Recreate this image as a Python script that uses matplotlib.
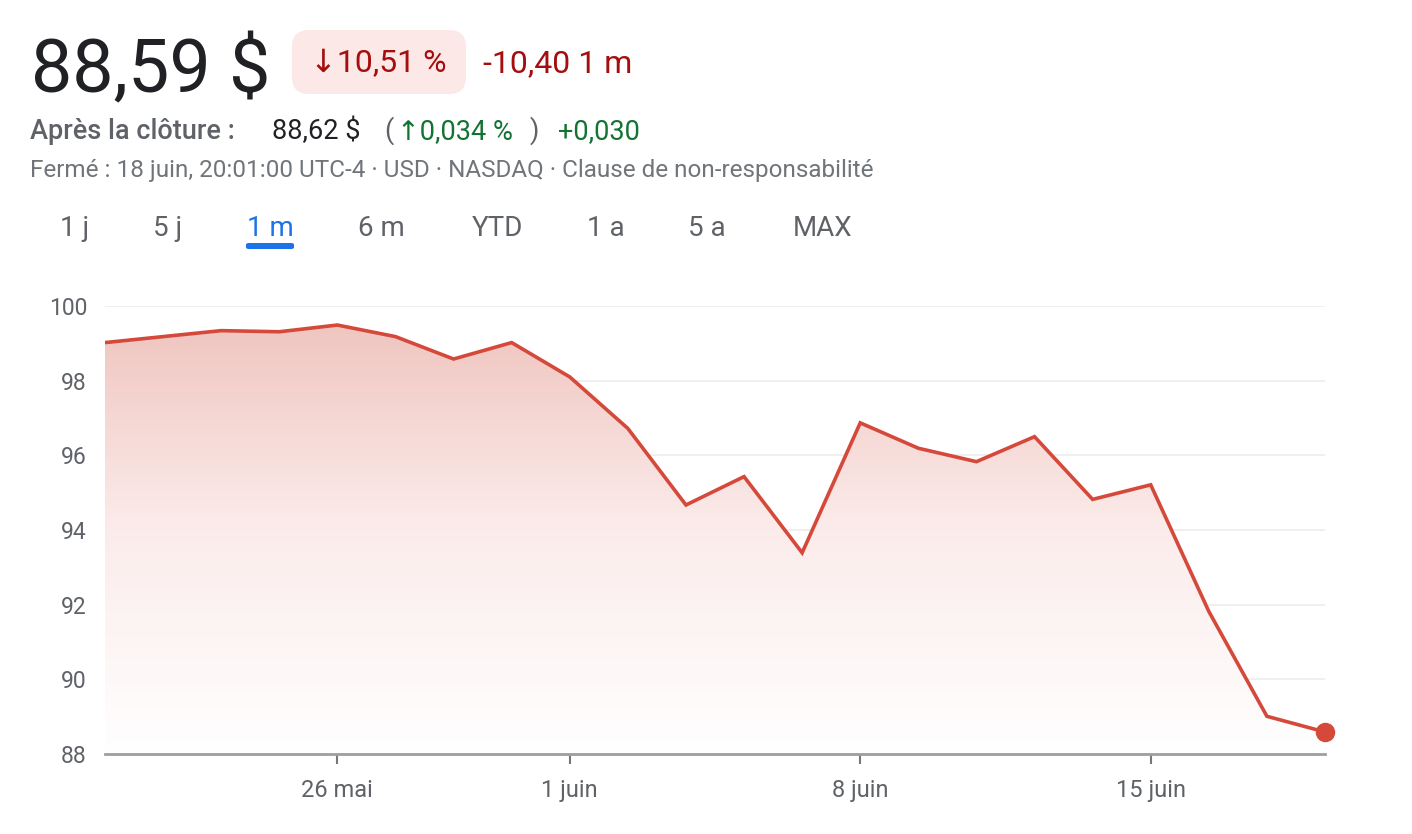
import numpy as np
import matplotlib.pyplot as plt
import matplotlib.ticker as ticker
from matplotlib.colors import LinearSegmentedColormap
from matplotlib.patches import Polygon, FancyBboxPatch

plt.rcParams['font.family'] = ['Roboto', 'DejaVu Sans']

# trading days shown on the 1 month view
dates = ['19 mai', '20 mai', '21 mai', '22 mai', '26 mai', '27 mai', '28 mai', '29 mai',
         '1 juin', '2 juin', '3 juin', '4 juin', '5 juin',
         '8 juin', '9 juin', '10 juin', '11 juin', '12 juin',
         '15 juin', '16 juin', '17 juin', '18 juin']
prices = [99.02, 99.18, 99.34, 99.31, 99.49, 99.18, 98.58, 99.02,
          98.10, 96.72, 94.67, 95.43, 93.39,
          96.87, 96.19, 95.83, 96.50, 94.82,
          95.21, 91.82, 89.01, 88.59]
xtick_labels = ['26 mai', '1 juin', '8 juin', '15 juin']
yticks = [88, 90, 92, 94, 96, 98, 100]
tabs = ['1 j', '5 j', '1 m', '6 m', 'YTD', '1 a', '5 a', 'MAX']

W, H = 1412, 834
red = '#d5493b'
grey = '#5f6368'

def fx(px):
    return px / W

def fy(py):
    return 1 - py / H

fig = plt.figure(figsize=(W / 100, H / 100), dpi=100)
ax = fig.add_axes([fx(105), fy(754), fx(1325) - fx(105), (754 - 306) / H])

x = np.arange(len(prices))
ymin, ymax = 88, 100

# gradient fill under the line
cmap = LinearSegmentedColormap.from_list('fade', ['#ffffff', '#fbeceb', '#efc2bc'])
grad = np.linspace(0, 1, 256).reshape(-1, 1)
im = ax.imshow(grad, extent=[x[0], x[-1], ymin, ymax], origin='lower',
               aspect='auto', cmap=cmap, zorder=1)
verts = [(x[0], ymin)] + list(zip(x, prices)) + [(x[-1], ymin)]
poly = Polygon(verts, closed=True, facecolor='none', edgecolor='none')
ax.add_patch(poly)
im.set_clip_path(poly)

ax.plot(x, prices, color=red, linewidth=2.6, solid_joinstyle='miter', zorder=3)
ax.plot(x[-1], prices[-1], 'o', color=red, markersize=13, clip_on=False, zorder=4)

ax.set_xlim(x[0], x[-1])
ax.set_ylim(ymin, ymax)
ax.set_yticks(yticks)
ax.yaxis.set_major_formatter(ticker.FormatStrFormatter('%d'))
ax.set_xticks([dates.index(d) for d in xtick_labels])
ax.set_xticklabels(xtick_labels)

for s in ['top', 'right', 'left']:
    ax.spines[s].set_visible(False)
ax.spines['bottom'].set_color('#9e9e9e')
ax.spines['bottom'].set_linewidth(2)
ax.set_axisbelow(True)
ax.yaxis.grid(True, color='#ececec', linewidth=1.2)
ax.tick_params(axis='y', length=0, pad=13, labelsize=16.5, labelcolor=grey)
ax.tick_params(axis='x', length=7, width=1.5, color='#777777', pad=11,
               labelsize=17, labelcolor=grey)
ax.patch.set_alpha(0)

# header
fig.text(fx(31), fy(92), '88,59 $', fontsize=53, color='#202124', va='baseline')
badge = FancyBboxPatch((fx(292), fy(94)), fx(466) - fx(292), (94 - 30) / H,
                       boxstyle='round,pad=0,rounding_size=0.012',
                       transform=fig.transFigure, facecolor='#fce8e6',
                       edgecolor='none', mutation_aspect=W / H)
fig.patches.append(badge)
fig.text(fx(310), fy(72), '↓10,51 %', fontsize=23, color='#a50e0e', va='baseline')
fig.text(fx(483), fy(72), '-10,40 1 m', fontsize=23, color='#a50e0e', va='baseline')

fig.text(fx(30), fy(139), 'Après la clôture :', fontsize=19.5, color=grey,
         va='baseline', fontweight='medium')
fig.text(fx(272), fy(139), '88,62 $', fontsize=19.5, color='#202124', va='baseline')
fig.text(fx(384), fy(139), '(', fontsize=19.5, color=grey, va='baseline')
fig.text(fx(397), fy(139), '↑0,034 %', fontsize=19.5, color='#137333', va='baseline')
fig.text(fx(530), fy(139), ')', fontsize=19.5, color=grey, va='baseline')
fig.text(fx(558), fy(139), '+0,030', fontsize=19.5, color='#137333', va='baseline')

fig.text(fx(30), fy(177),
         'Fermé : 18 juin, 20:01:00 UTC-4 · USD · NASDAQ · Clause de non-responsabilité',
         fontsize=17.5, color='#70757a', va='baseline')

tab_x = [75, 168, 270, 381, 497, 606, 707, 823]
for t, px in zip(tabs, tab_x):
    fig.text(fx(px), fy(236), t, fontsize=20, ha='center', va='baseline',
             color='#1a73e8' if t == '1 m' else grey)
underline = FancyBboxPatch((fx(246), fy(249)), fx(294) - fx(246), 6 / H,
                           boxstyle='round,pad=0,rounding_size=0.002',
                           transform=fig.transFigure, facecolor='#1a73e8',
                           edgecolor='none')
fig.patches.append(underline)

fig.savefig('out.png', dpi=100)
